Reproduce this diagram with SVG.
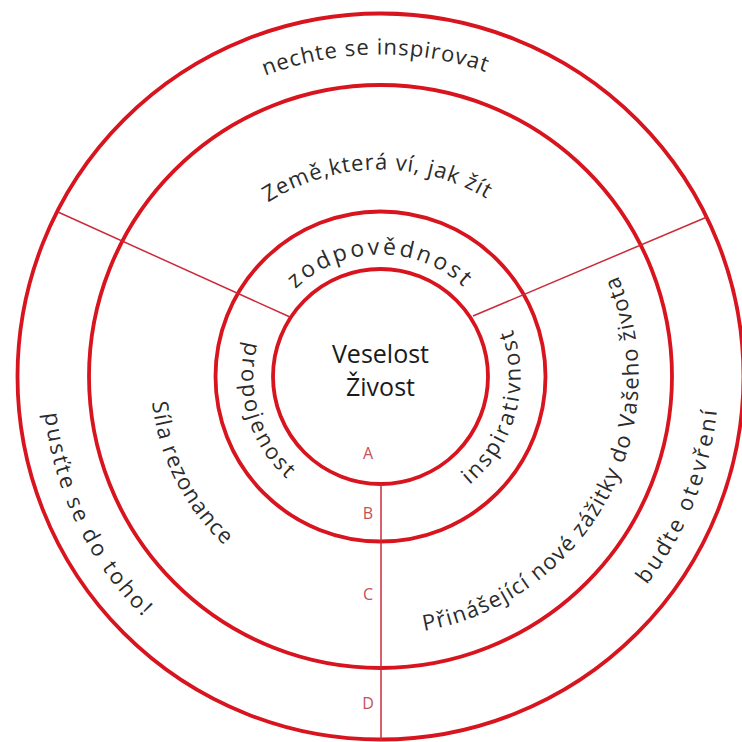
<svg xmlns="http://www.w3.org/2000/svg" xmlns:xlink="http://www.w3.org/1999/xlink" width="742" height="742" viewBox="0 0 742 742">
  <style>
    .ring { fill: none; stroke: #d8141e; stroke-width: 3.8; }
    .div { fill: none; stroke: #cc2a3a; stroke-width: 1.5; }
    .lbl { font-family: "Open Sans", "Noto Sans", sans-serif; font-size: 22px; fill: #2b2b2b; }
    .core { font-family: "Open Sans", "Noto Sans", sans-serif; font-size: 25px; fill: #1a1a1a; text-anchor: middle; }
    .lvl { font-family: "Open Sans", "Noto Sans", sans-serif; font-size: 16px; fill: #c4505c; text-anchor: middle; }
  </style>
  <defs>
    <path id="p-nechte" d="M 58.5 376.5 A 322 322 0 0 1 702.5 376.5"/>
    <path id="p-zeme" d="M 173.5 376.5 A 207 207 0 0 1 587.5 376.5"/>
    <path id="p-zodp" d="M 258.5 376.5 A 122 122 0 0 1 502.5 376.5"/>
    <path id="p-propo" d="M 317.4 252.7 A 139 139 0 0 0 397.4 514.5"/>
    <path id="p-inspi" d="M 368.3 516.0 A 140 140 0 0 0 439.7 249.6"/>
    <path id="p-sila" d="M 242.1 192.8 A 230 230 0 0 0 447.8 596.4"/>
    <path id="p-pustte" d="M 181.8 103.1 A 338 338 0 0 0 473.7 701.4"/>
    <path id="p-prin" d="M 298.6 621.2 A 258 258 0 0 0 541.1 174.6"/>
    <path id="p-budte" d="M 312.0 707.5 A 338 338 0 0 0 558.1 88.9"/>
  </defs>
  <rect width="742" height="742" fill="#ffffff"/>

  <g id="ring-outer">
    <circle class="ring" cx="380.5" cy="376.5" r="363"/>
    <text class="lbl" letter-spacing="1"><textPath href="#p-nechte" xlink:href="#p-nechte" startOffset="49.5%" text-anchor="middle">nechte se inspirovat</textPath></text>
    <text class="lbl" letter-spacing="2.6"><textPath href="#p-pustte" xlink:href="#p-pustte" startOffset="50%" text-anchor="middle">pusťte se do toho!</textPath></text>
    <text class="lbl" letter-spacing="3"><textPath href="#p-budte" xlink:href="#p-budte" startOffset="50%" text-anchor="middle">buďte otevření</textPath></text>
  </g>

  <g id="ring-2">
    <circle class="ring" cx="380.5" cy="376.5" r="291.5"/>
    <text class="lbl" letter-spacing="1"><textPath href="#p-zeme" xlink:href="#p-zeme" startOffset="49.5%" text-anchor="middle">Země,která ví, jak žít</textPath></text>
    <text class="lbl" letter-spacing="1.2"><textPath href="#p-sila" xlink:href="#p-sila" startOffset="50%" text-anchor="middle">Síla rezonance</textPath></text>
    <text class="lbl" letter-spacing="1.3"><textPath href="#p-prin" xlink:href="#p-prin" startOffset="50%" text-anchor="middle">Přinášející nové zážitky do Vašeho života</textPath></text>
  </g>

  <g id="ring-3">
    <circle class="ring" cx="380.5" cy="376.5" r="165"/>
    <text class="lbl" style="font-size:23px" letter-spacing="3"><textPath href="#p-zodp" xlink:href="#p-zodp" startOffset="50%" text-anchor="middle">zodpovědnost</textPath></text>
    <text class="lbl" letter-spacing="2.5"><textPath href="#p-propo" xlink:href="#p-propo" startOffset="50%" text-anchor="middle">propojenost</textPath></text>
    <text class="lbl" letter-spacing="2.5"><textPath href="#p-inspi" xlink:href="#p-inspi" startOffset="50%" text-anchor="middle">inspirativnost</textPath></text>
  </g>

  <g id="core">
    <circle class="ring" cx="380.5" cy="376.5" r="107.5"/>
    <text class="core" x="380.5" y="363">Veselost</text>
    <text class="core" x="380.5" y="396">Živost</text>
  </g>

  <g id="connectors">
    <line class="div" x1="58" y1="212" x2="290" y2="317"/>
    <line class="div" x1="473" y1="316" x2="707" y2="217"/>
    <line class="div" x1="381" y1="484" x2="381" y2="741"/>
  </g>

  <g id="levels">
    <text class="lvl" x="368" y="459">A</text>
    <text class="lvl" x="368" y="519">B</text>
    <text class="lvl" x="368" y="600">C</text>
    <text class="lvl" x="368" y="709">D</text>
  </g>
</svg>
